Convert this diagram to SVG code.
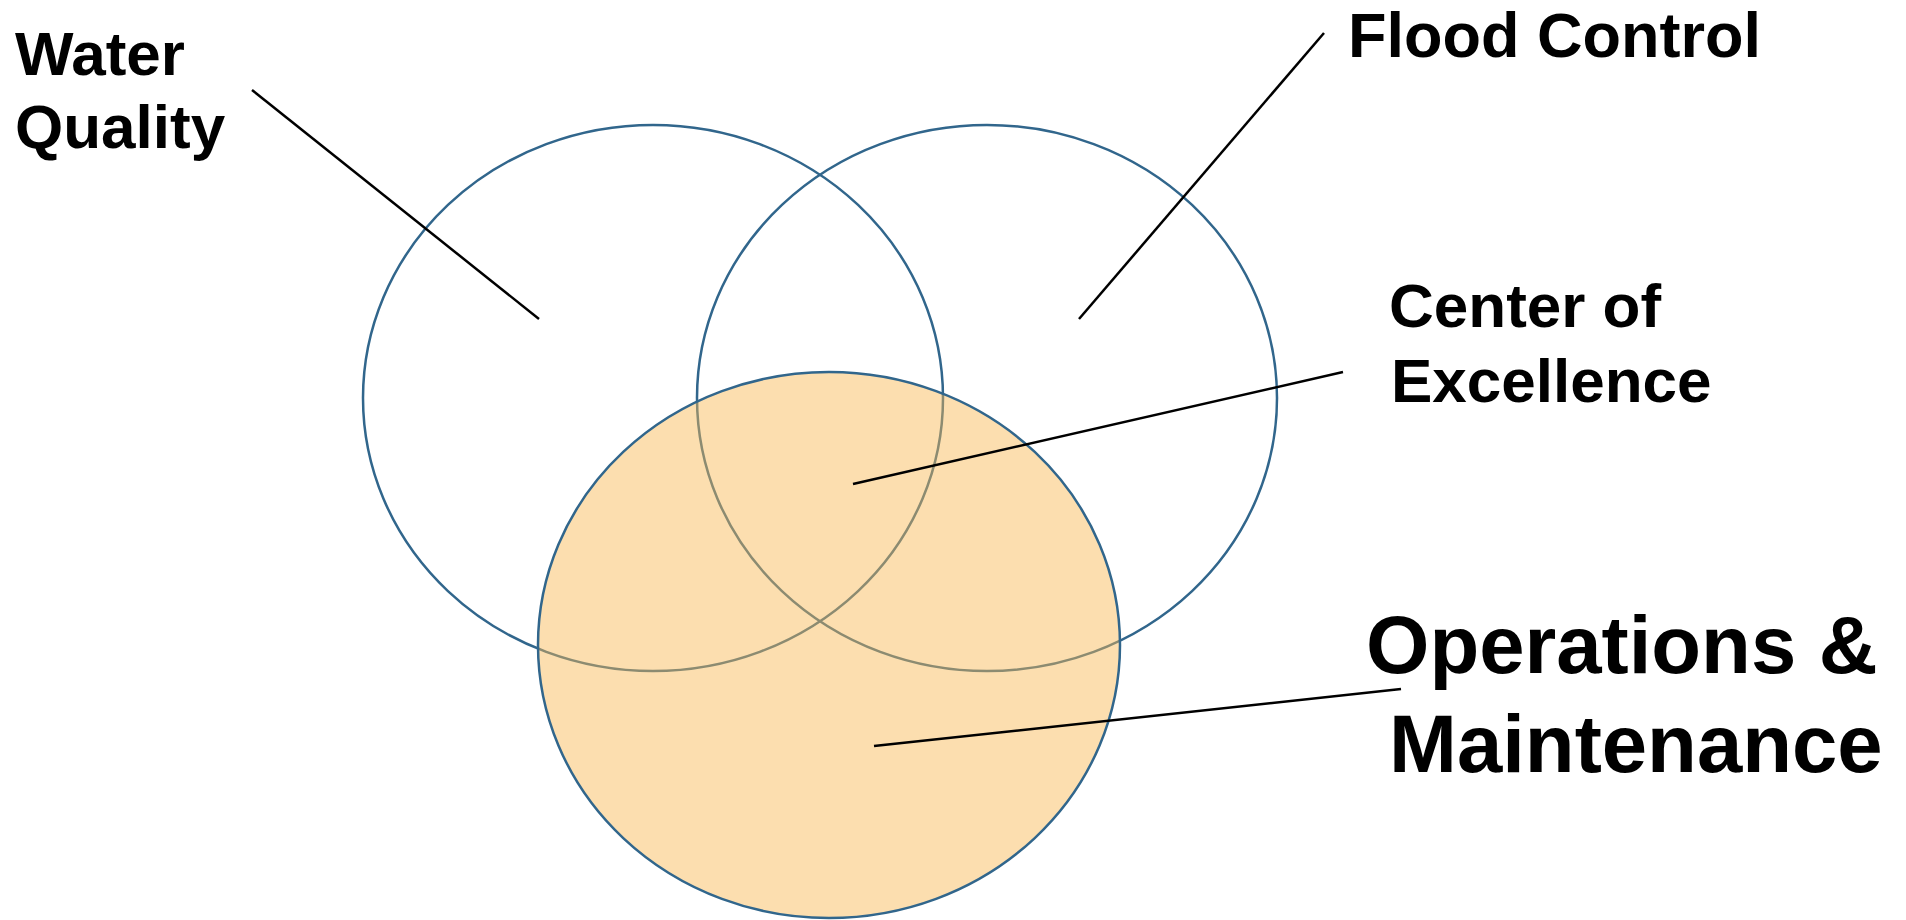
<svg xmlns="http://www.w3.org/2000/svg" width="1906" height="920" viewBox="0 0 1906 920">
<style>
.ring{fill:none;stroke:#31668C;stroke-width:2.5}
.om{fill:#F9B850;fill-opacity:0.46;stroke:#31668C;stroke-width:2.5}
.lead{stroke:#000;stroke-width:2.5;fill:none}
.lbl{font-family:"Liberation Sans",Arial,sans-serif;font-weight:bold;fill:#000}
</style>
<rect width="1906" height="920" fill="#fff"/>
<g id="water-quality">
<ellipse class="ring" cx="653" cy="398" rx="290" ry="273"/>
<text class="lbl" font-size="62"><tspan x="15" y="75">Water</tspan><tspan x="15" y="148">Quality</tspan></text>
</g>
<g id="flood-control">
<ellipse class="ring" cx="987" cy="398" rx="290" ry="273"/>
<text class="lbl" font-size="63" x="1348" y="57">Flood Control</text>
</g>
<g id="operations-maintenance">
<ellipse class="om" cx="829" cy="645" rx="291" ry="273"/>
<text class="lbl" font-size="81.5"><tspan x="1366" y="673">Operations &amp;</tspan><tspan x="1389" y="772">Maintenance</tspan></text>
</g>
<g id="center-of-excellence">
<text class="lbl" font-size="62"><tspan x="1389" y="327">Center of</tspan><tspan x="1391" y="402">Excellence</tspan></text>
</g>
<g id="connectors">
<line class="lead" x1="252" y1="90" x2="539" y2="319"/>
<line class="lead" x1="1324" y1="33" x2="1079" y2="319"/>
<line class="lead" x1="1343" y1="372" x2="853" y2="484"/>
<line class="lead" x1="1401" y1="689" x2="874" y2="746"/>
</g>
</svg>
